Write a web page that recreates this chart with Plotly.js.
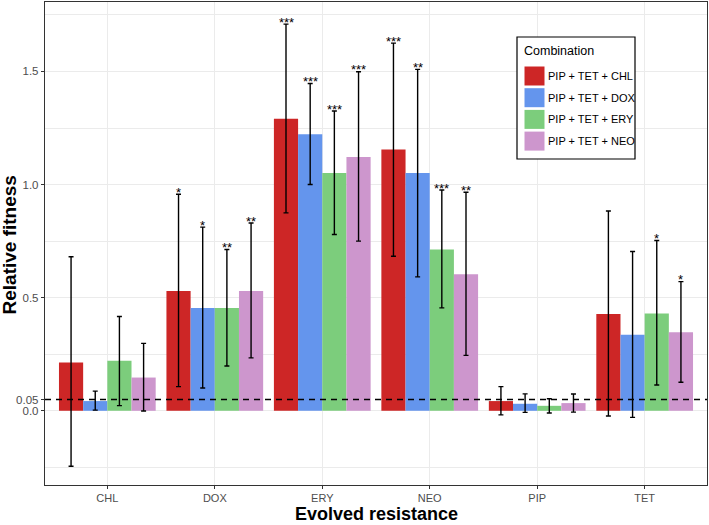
<!DOCTYPE html>
<html><head><meta charset="utf-8">
<script src="https://cdn.plot.ly/plotly-3.0.1.min.js"></script>
<style>html,body{margin:0;padding:0;background:#fff}</style>
</head><body>
<div id="chart" style="width:709px;height:525px"></div>
<script>
// ---- data ----
const categories = ['CHL', 'DOX', 'ERY', 'NEO', 'PIP', 'TET'];
const seriesNames = ['PIP + TET + CHL', 'PIP + TET + DOX', 'PIP + TET + ERY', 'PIP + TET + NEO'];

const meanCHL  = [0.214, 0.530, 1.291, 1.155, 0.043, 0.428];
const upperCHL = [0.681, 0.957, 1.709, 1.625, 0.107, 0.883];
const lowerCHL = [-0.245, 0.107, 0.875, 0.683, -0.018, -0.023];
const starsCHL = ['', '*', '***', '***', '', ''];

const meanDOX  = [0.043, 0.454, 1.222, 1.051, 0.031, 0.336];
const upperDOX = [0.087, 0.812, 1.447, 1.509, 0.075, 0.704];
const lowerDOX = [0.003, 0.101, 1.000, 0.592, -0.007, -0.029];
const starsDOX = ['', '*', '***', '**', '', ''];

const meanERY  = [0.221, 0.454, 1.051, 0.713, 0.022, 0.430];
const upperERY = [0.417, 0.713, 1.325, 0.976, 0.053, 0.753];
const lowerERY = [0.023, 0.198, 0.779, 0.455, -0.010, 0.114];
const starsERY = ['', '**', '***', '***', '', '*'];

const meanNEO  = [0.147, 0.530, 1.122, 0.604, 0.034, 0.347];
const upperNEO = [0.298, 0.830, 1.499, 0.966, 0.074, 0.571];
const lowerNEO = [-0.001, 0.234, 0.750, 0.245, -0.006, 0.126];
const starsNEO = ['', '**', '***', '**', '', '*'];

const yTickVals = [0, 0.05, 0.5, 1.0, 1.5];
const yTickText = ['0.0', '0.05', '0.5', '1.0', '1.5'];
const threshold = 0.05;
const legendTitle = 'Combination';
const xTitle = 'Evolved resistance';
const yTitle = 'Relative fitness';

// ---- styles ----
const FONT = 'Liberation Sans, Arial, Helvetica, sans-serif';
const colors = ['#CD2626', '#6495ED', '#7CCD7C', '#CD96CD'];
const means = [meanCHL, meanDOX, meanERY, meanNEO];
const uppers = [upperCHL, upperDOX, upperERY, upperNEO];
const lowers = [lowerCHL, lowerDOX, lowerERY, lowerNEO];
const stars = [starsCHL, starsDOX, starsERY, starsNEO];

const W = 709, H = 525;
const M = {l: 45, r: 2, t: 2, b: 40};
const pw = W - M.l - M.r, ph = H - M.t - M.b;
const px = v => (v - M.l) / pw;            // pixel x -> paper
const py = v => (H - M.b - v) / ph;        // pixel y -> paper

const traces = seriesNames.map((name, s) => ({
  type: 'bar',
  name: name,
  x: categories,
  y: means[s],
  marker: {color: colors[s], line: {width: 0}},
  error_y: {
    type: 'data', symmetric: false,
    array: uppers[s].map((u, i) => u - means[s][i]),
    arrayminus: means[s].map((m, i) => m - lowers[s][i]),
    color: '#000', thickness: 1.4, width: 2.5
  }
}));

const barW = 0.9 / 4;
const annotations = [];
stars.forEach((arr, s) => {
  arr.forEach((txt, i) => {
    if (!txt) return;
    annotations.push({
      x: i + (s - 1.5) * barW, y: uppers[s][i], xref: 'x', yref: 'y',
      text: txt, showarrow: false, yanchor: 'middle', yshift: 2,
      font: {family: FONT, size: 13, color: '#000'}
    });
  });
});

// axis titles
annotations.push({
  xref: 'paper', yref: 'paper', x: 0.5, y: py(525), xanchor: 'center', yanchor: 'bottom',
  text: '<b>' + xTitle + '</b>', showarrow: false, borderpad: 0,
  font: {family: FONT, size: 18, color: '#000'}
});
annotations.push({
  xref: 'paper', yref: 'paper', x: px(9.5), y: py(245), xanchor: 'center', yanchor: 'middle',
  text: '<b>' + yTitle + '</b>', showarrow: false, textangle: -90,
  font: {family: FONT, size: 19, color: '#000'}
});

// custom legend
const shapes = [{
  type: 'line', xref: 'paper', x0: 0, x1: 1, yref: 'y', y0: threshold, y1: threshold,
  line: {color: '#000', width: 1.4, dash: '6px,5px'}, layer: 'above'
}];
const lgLeft = 517, lgRight = 635, lgTop = 37, lgBottom = 159;
shapes.push({
  type: 'rect', xref: 'paper', yref: 'paper',
  x0: px(lgLeft), x1: px(lgRight), y0: py(lgBottom), y1: py(lgTop),
  line: {color: '#000', width: 1.2}, fillcolor: '#fff', layer: 'above'
});
annotations.push({
  xref: 'paper', yref: 'paper', x: px(522), y: py(51), xanchor: 'left', yanchor: 'middle',
  text: legendTitle, showarrow: false, font: {family: FONT, size: 12.5, color: '#000'}
});
seriesNames.forEach((name, s) => {
  const cy = 76 + s * 21.7;
  shapes.push({
    type: 'rect', xref: 'paper', yref: 'paper',
    x0: px(524.5), x1: px(544.5), y0: py(cy + 9.5), y1: py(cy - 9.5),
    line: {width: 0}, fillcolor: colors[s], layer: 'above'
  });
  annotations.push({
    xref: 'paper', yref: 'paper', x: px(546), y: py(cy), xanchor: 'left', yanchor: 'middle',
    text: name, showarrow: false, font: {family: FONT, size: 11, color: '#000'}
  });
});

const layout = {
  width: W, height: H,
  margin: M,
  paper_bgcolor: '#fff', plot_bgcolor: '#fff',
  font: {family: FONT, color: '#4D4D4D'},
  barmode: 'group', bargap: 0.1, bargroupgap: 0,
  showlegend: false,
  xaxis: {
    type: 'category', range: [-0.58, 5.58],
    showgrid: true, gridcolor: '#EBEBEB', gridwidth: 1.1,
    showline: true, linecolor: '#333', linewidth: 1.2, mirror: true,
    ticks: 'outside', ticklen: 3, tickcolor: '#333', tickwidth: 1,
    tickfont: {size: 11, color: '#4D4D4D'},
    zeroline: false
  },
  yaxis: {
    range: [-0.328, 1.807],
    tickmode: 'array', tickvals: yTickVals, ticktext: yTickText,
    showgrid: false, zeroline: false,
    minor: {tickmode: 'array', tickvals: [-0.25, 0, 0.25, 0.5, 0.75, 1.0, 1.25, 1.5, 1.75],
            showgrid: true, gridcolor: '#EBEBEB', gridwidth: 1, ticks: ''},
    showline: true, linecolor: '#333', linewidth: 1.2, mirror: true,
    ticks: 'outside', ticklen: 3, tickcolor: '#333', tickwidth: 1,
    tickfont: {size: 11.5, color: '#4D4D4D'}
  },
  shapes: shapes,
  annotations: annotations
};

Plotly.newPlot('chart', traces, layout, {displayModeBar: false, staticPlot: true});
</script>
</body></html>
